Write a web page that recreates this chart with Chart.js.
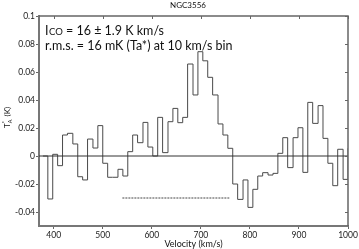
<!DOCTYPE html>
<html>
<head>
<meta charset="utf-8">
<script src="https://cdn.jsdelivr.net/npm/chart.js@4/dist/chart.umd.min.js"></script>
<style>
html,body{margin:0;padding:0;background:#fff;}
#wrap{width:359px;height:249px;}
</style>
</head>
<body>
<div id="wrap"><canvas id="spec" width="359" height="249"></canvas></div>
<script>

// channel edges (km/s), ~10 km/s bins
const edges = [378,388,398,408,418,428,439,449,459,469,480,490,500,510,520,531,541,551,561,571,
582,592,602,612,622,633,643,653,663,673,684,694,704,714,724,735,745,755,765,775,
786,796,806,816,826,837,847,857,867,877,888,898,908,918,928,939,949,959,969,979,990,1000];

// Ta* per channel (K)
const temps = [-0.0307,0.0012,-0.0069,0.0150,0.0162,0.0086,-0.0148,-0.0171,0.0121,0.0057,
0.0217,-0.0052,-0.0152,-0.0152,-0.0095,-0.0143,0.0031,0.0150,0.0095,0.0240,
0.0064,0.0000,0.0276,0.0024,0.0245,0.0340,0.0238,0.0276,0.0657,0.0436,
0.0745,0.0680,0.0562,0.0436,0.0229,0.0150,0.0055,-0.0200,-0.0310,-0.0171,
-0.0367,-0.0238,-0.0143,-0.0119,-0.0136,-0.0124,0.0019,0.0131,-0.0083,0.0131,
0.0202,-0.0117,0.0383,0.0233,0.0360,0.0126,-0.0052,-0.0212,0.0048,-0.0167,0.0055];

const lineWindow = [540,758];
const windowLevel = -0.03;

const xTicks = [400,500,600,700,800,900,1000];
const yTicks = [-0.04,-0.02,0,0.02,0.04,0.06,0.08,0.1];

const FONT = "Lato, 'Open Sans', sans-serif";

// spectrum: first point starts at zero, every other point carries the bin ending there
let spectrum = [{x:edges[0], y:0}];
temps.forEach((t,i)=>{
spectrum.push({x:edges[i+1], y:t});
});

const frameAndText = {
id:"frameAndText",
afterDraw(chart){
const ctx = chart.ctx;
const a = chart.chartArea;
const xs = chart.scales.x;
const ys = chart.scales.y;

ctx.save();
ctx.strokeStyle = "#666";
ctx.lineWidth = 1.5;
ctx.beginPath();
ctx.moveTo(a.left, a.top);
ctx.lineTo(a.right, a.top);
ctx.lineTo(a.right, a.bottom);
ctx.stroke();

/* inner ticks on top and right */
ctx.lineWidth = 1;
ctx.beginPath();
xTicks.forEach(v=>{
const px = Math.round(xs.getPixelForValue(v)) + 0.5;
ctx.moveTo(px, a.top);
ctx.lineTo(px, a.top + 3);
});
yTicks.forEach(v=>{
const py = Math.round(ys.getPixelForValue(v)) + 0.5;
ctx.moveTo(a.right, py);
ctx.lineTo(a.right - 3, py);
});
ctx.stroke();

ctx.fillStyle = "#111";
ctx.textBaseline = "alphabetic";

/* title */
ctx.font = "8px " + FONT;
ctx.textAlign = "center";
ctx.fillText("NGC3556", 188, 8);

/* annotation */
ctx.textAlign = "left";
let x = 45;
ctx.font = "12.5px " + FONT;
ctx.fillText("I", x, 35);
x += ctx.measureText("I").width + 0.5;
ctx.font = "9.5px " + FONT;
ctx.fillText("CO", x, 35);
x += ctx.measureText("CO").width;
ctx.font = "12.5px " + FONT;
ctx.fillText(" = 16 \u00b1 1.9 K km/s", x, 35);
ctx.fillText("r.m.s. = 16 mK (Ta*) at 10 km/s bin", 45, 50);

/* y title, rotated */
ctx.translate(10, 128);
ctx.rotate(-Math.PI/2);
let yx = 0;
ctx.font = "8px " + FONT;
ctx.fillText("T", yx, 0);
yx += ctx.measureText("T").width;
ctx.font = "5.5px " + FONT;
ctx.fillText("A", yx, 2);
ctx.fillText("*", yx, -4);
yx += ctx.measureText("A").width + 1;
ctx.font = "8px " + FONT;
ctx.fillText(" (K)", yx, 0);

ctx.restore();
}
};

new Chart(
document.getElementById("spec"),
{
type:"line",
data:{
datasets:[
{
data:[{x:370,y:0},{x:1000,y:0}],
borderColor:"#333",
borderWidth:1,
pointRadius:0
},
{
data:[{x:lineWindow[0],y:windowLevel},{x:lineWindow[1],y:windowLevel}],
borderColor:"#444",
borderWidth:1,
borderDash:[2,1],
pointRadius:0
},
{
data:spectrum,
stepped:"before",
borderColor:"#4a4a4a",
borderWidth:1,
pointRadius:0,
fill:false
}
]
},
plugins:[frameAndText],
options:{
responsive:false,
animation:false,
devicePixelRatio:1,
layout:{
padding:{top:16,right:11,left:0,bottom:0}
},
plugins:{
legend:{display:false},
tooltip:{enabled:false}
},
scales:{
x:{
type:"linear",
min:370,
max:1000,
afterBuildTicks:s=>{
s.ticks = xTicks.map(v=>({value:v}));
},
afterFit:s=>{
s.height = 23;
},
ticks:{
font:{family:FONT,size:8.5},
color:"#222",
padding:1,
maxRotation:0,
autoSkip:false,
callback:v=>String(v)
},
grid:{
drawOnChartArea:false,
tickLength:3,
color:"#666"
},
border:{
color:"#777",
width:2
},
title:{
display:true,
text:"Velocity (km/s)",
font:{family:FONT,size:9},
color:"#111",
padding:{top:0,bottom:0}
}
},
y:{
min:-0.05,
max:0.1,
afterBuildTicks:s=>{
s.ticks = yTicks.map(v=>({value:v}));
},
afterFit:s=>{
s.width = 39;
},
ticks:{
font:{family:FONT,size:8.5},
color:"#222",
padding:1,
callback:v=>String(+v.toFixed(2))
},
grid:{
drawOnChartArea:false,
tickLength:3,
color:"#666"
},
border:{
color:"#777",
width:2
}
}
}
}
}
);

</script>
</body>
</html>
